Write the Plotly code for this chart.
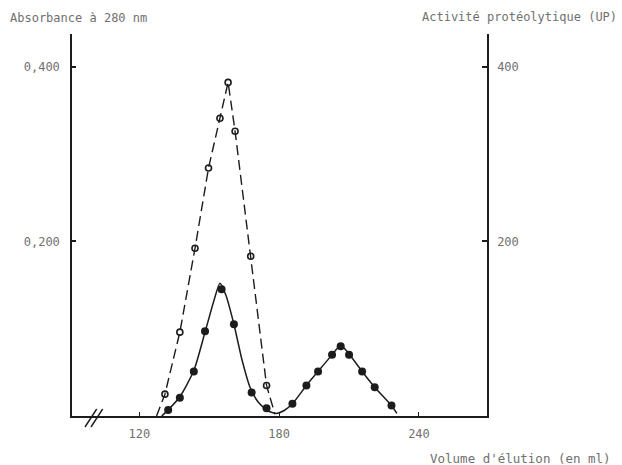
import plotly.graph_objects as go

# ---- data ----
# Absorbance at 280 nm (open circles, dashed line)
abs_ml = [131.0, 137.4, 143.9, 149.7, 154.6, 158.1, 161.1, 167.8, 174.6]
abs_val = [0.025, 0.096, 0.192, 0.284, 0.341, 0.382, 0.326, 0.183, 0.035]
# dashed line vertices (curve drawn through the points, ending at baseline)
abs_line_ml = [127.4, 131.0, 137.4, 143.9, 149.7, 154.6, 158.1, 161.1, 167.8, 174.6, 178.2]
abs_line_val = [0.0, 0.025, 0.096, 0.192, 0.284, 0.341, 0.382, 0.326, 0.183, 0.035, 0.002]

# Proteolytic activity (filled circles, solid line)
act_ml = [132.4, 137.4, 143.4, 148.2, 155.3, 160.6, 168.2, 174.6,
          185.7, 191.7, 196.7, 202.7, 206.4, 210.0, 215.6, 221.0, 228.2]
act_up = [7, 21, 51, 97, 145, 105, 27, 9,
          14, 35, 51, 70, 80, 70, 51, 33, 12]
# solid line vertices (hand-drawn curve)
act_line_ml = [129.6, 132.4, 137.4, 143.4, 148.2, 152.0, 154.6, 157.2, 160.6, 164.0,
               167.5, 171.0, 175.0, 178.9, 182.0, 185.7, 191.7, 196.7, 202.7, 206.4,
               210.0, 215.6, 221.0, 228.2, 230.5]
act_line_up = [0, 7, 22, 52, 96, 132, 152, 138, 105, 65,
               33, 16, 6, 3, 6, 14, 35, 51, 70, 81,
               71, 51, 33, 12, 3]

# axis ticks
x_ticks = [120, 180, 240]
y_ticks = [0.2, 0.4]
y_ticktext = ["0,200", "0,400"]
y2_ticks = [200, 400]
y2_ticktext = ["200", "400"]

INK = "#1c1c1c"
TXT = "#707070"
FONT = "DejaVu Sans Mono"

fig = go.Figure()

fig.add_trace(go.Scatter(x=abs_line_ml, y=abs_line_val, mode="lines",
                         line=dict(color=INK, width=1.4, dash="10px,5px"),
                         hoverinfo="skip", showlegend=False))
fig.add_trace(go.Scatter(x=abs_ml, y=abs_val, mode="markers",
                         marker=dict(symbol="circle-open", size=6, color=INK,
                                     line=dict(width=1.6, color=INK)),
                         showlegend=False))

fig.add_trace(go.Scatter(x=act_line_ml, y=act_line_up, mode="lines", yaxis="y2",
                         line=dict(color=INK, width=1.5, shape="spline", smoothing=0.6),
                         hoverinfo="skip", showlegend=False))
fig.add_trace(go.Scatter(x=act_ml, y=act_up, mode="markers", yaxis="y2",
                         marker=dict(symbol="circle", size=8, color=INK),
                         showlegend=False))

L, R, T, B = 72, 135, 34, 49
W, H = 622, 465
pw, ph = W - L - R, H - T - B


def px(x):
    return (x - L) / pw


def py(y):
    return (H - B - y) / ph


fig.update_layout(
    width=W, height=H,
    margin=dict(l=L, r=R, t=T, b=B, pad=0),
    paper_bgcolor="white", plot_bgcolor="white",
    font=dict(family=FONT, size=12, color=TXT),
    xaxis=dict(range=[91.13, 269.18], showline=True, linecolor=INK, linewidth=1.5,
               ticks="inside", ticklen=4, tickwidth=1.2, tickcolor=INK,
               tickvals=x_ticks, ticktext=[str(v) for v in x_ticks],
               showgrid=False, zeroline=False, ticklabelstandoff=6,
               tickfont=dict(family=FONT, size=12, color=TXT)),
    yaxis=dict(range=[0, 0.4374], showline=True, linecolor=INK, linewidth=1.5,
               ticks="inside", ticklen=4, tickwidth=1.5, tickcolor=INK,
               tickvals=y_ticks, ticktext=y_ticktext,
               showgrid=False, zeroline=False, ticklabelstandoff=8,
               tickfont=dict(family=FONT, size=12, color=TXT)),
    yaxis2=dict(range=[0, 437.4], overlaying="y", side="right", showline=True,
                linecolor=INK, linewidth=1.5,
                ticks="inside", ticklen=5, tickwidth=1.5, tickcolor=INK,
                tickvals=y2_ticks, ticktext=y2_ticktext,
                showgrid=False, zeroline=False, ticklabelstandoff=6,
                tickfont=dict(family=FONT, size=12, color=TXT)),
    annotations=[
        dict(text="Absorbance à 280 nm", x=px(78), y=py(18), xref="paper", yref="paper",
             showarrow=False, xanchor="center", yanchor="middle",
             font=dict(family=FONT, size=12, color=TXT)),
        dict(text="Activité protéolytique (UP)", x=px(519), y=py(17), xref="paper", yref="paper",
             showarrow=False, xanchor="center", yanchor="middle",
             font=dict(family=FONT, size=12, color=TXT)),
        dict(text="Volume d'élution (en ml)", x=px(520), y=py(458), xref="paper", yref="paper",
             showarrow=False, xanchor="center", yanchor="middle",
             font=dict(family=FONT, size=12.5, color=TXT)),
    ],
    shapes=[
        dict(type="line", xref="paper", yref="paper", x0=px(85), y0=py(427), x1=px(96.7), y1=py(409),
             line=dict(color=INK, width=1.4)),
        dict(type="line", xref="paper", yref="paper", x0=px(91), y0=py(427), x1=px(102.7), y1=py(409),
             line=dict(color=INK, width=1.4)),
    ],
)

fig.write_html("out.html",
               config={"displayModeBar": False},
               post_script="document.body.style.margin='0';document.body.style.overflow='hidden';")
